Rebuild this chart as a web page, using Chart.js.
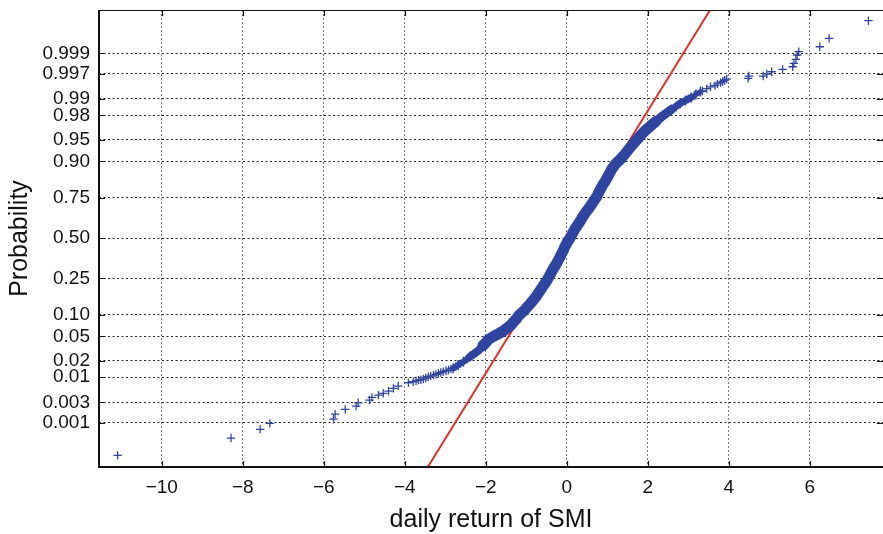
<!DOCTYPE html>
<html>
<head>
<meta charset="utf-8">
<script src="https://cdn.jsdelivr.net/npm/chart.js@4/dist/chart.umd.min.js"></script>
<style>
  html, body { margin: 0; padding: 0; background: #fff; }
  #wrap { width: 883px; height: 534px; }
</style>
</head>
<body>
<div id="wrap"><canvas id="chart" width="883" height="534"></canvas></div>
<script>
// sorted daily returns (x) and their normal quantile positions (z)
const lowerX = [-11.09, -8.29, -7.57, -7.33, -5.76, -5.72, -5.47, -5.20, -5.15, -4.87, -4.81, -4.65, -4.53, -4.40,
  -4.28, -4.16, -3.91, -3.79, -3.72, -3.66, -3.60, -3.54, -3.48, -3.42, -3.36, -3.29, -3.23, -3.17, -3.11, -3.05,
  -2.98, -2.92, -2.86, -2.80, -2.74, -2.68, -2.62, -2.55, -2.47, -2.39, -2.30, -2.22];
const lowerZ = [-3.636, -3.346, -3.20, -3.10, -3.03, -2.945, -2.866, -2.81, -2.756, -2.71, -2.665, -2.627, -2.598, -2.56,
  -2.515, -2.476, -2.421, -2.404, -2.39, -2.376, -2.37, -2.359, -2.34, -2.32, -2.31, -2.292, -2.28, -2.264, -2.25, -2.237,
  -2.22, -2.208, -2.19, -2.18, -2.15, -2.125, -2.10, -2.07, -2.03, -1.986, -1.94, -1.902];

const bodyX = [-2.80, -2.68, -2.55, -2.39, -2.22, -2.13, -2.07, -2.00, -1.94, -1.82, -1.68, -1.56, -1.46, -1.37, -1.31, -1.24, -1.19, -1.11, -1.03,
  -0.97, -0.90, -0.84, -0.78, -0.73, -0.68, -0.63, -0.58, -0.53, -0.48, -0.44, -0.40, -0.36, -0.32, -0.27, -0.23,
  -0.19, -0.155, -0.12, -0.08, -0.05, -0.01, 0.03, 0.08, 0.12, 0.16, 0.20, 0.25, 0.30, 0.35, 0.39, 0.44, 0.49,
  0.55, 0.60, 0.65, 0.70, 0.75, 0.78, 0.82, 0.86, 0.90, 0.95, 0.99, 1.03, 1.07, 1.11, 1.16, 1.22, 1.30, 1.37,
  1.43, 1.49, 1.55, 1.61, 1.67, 1.74, 1.80, 1.87, 1.94, 2.03, 2.11, 2.20, 2.29, 2.38, 2.48, 2.58, 2.70, 2.80, 2.93,
  3.07, 3.19, 3.30];
const bodyZ = [-2.18, -2.125, -2.07, -1.986, -1.902, -1.85, -1.80, -1.75, -1.70, -1.65, -1.60, -1.55, -1.50, -1.45, -1.40, -1.35, -1.30, -1.25, -1.20,
  -1.15, -1.10, -1.05, -1.00, -0.95, -0.90, -0.85, -0.80, -0.75, -0.70, -0.65, -0.60, -0.55, -0.50, -0.45, -0.40,
  -0.35, -0.30, -0.25, -0.20, -0.15, -0.10, -0.05, 0.00, 0.05, 0.10, 0.15, 0.20, 0.25, 0.30, 0.35, 0.40, 0.45,
  0.50, 0.55, 0.60, 0.65, 0.70, 0.75, 0.80, 0.85, 0.90, 0.95, 1.00, 1.05, 1.10, 1.15, 1.20, 1.25, 1.30, 1.35,
  1.40, 1.45, 1.50, 1.55, 1.60, 1.65, 1.70, 1.75, 1.80, 1.85, 1.90, 1.95, 2.00, 2.05, 2.10, 2.15, 2.20, 2.25, 2.30,
  2.35, 2.40, 2.45];

const upperX = [2.52, 2.75, 3.00, 3.15, 3.35, 3.46,
  3.55, 3.66, 3.72, 3.80, 3.85, 3.90, 3.95, 4.48, 4.50, 4.85, 4.94, 5.06, 5.33, 5.58, 5.61, 5.66, 5.69, 5.73,
  6.25, 6.48, 7.45];
const upperZ = [2.13, 2.24, 2.33, 2.39, 2.46, 2.50,
  2.53, 2.55, 2.58, 2.60, 2.62, 2.64, 2.66, 2.672, 2.71, 2.71, 2.744, 2.782, 2.822, 2.866, 2.923, 2.99, 3.062, 3.117,
  3.20, 3.341, 3.636];

// reference normal line
const fitX = [-3.43, 3.54];
const fitZ = [-3.83, 3.815];

const xTicks = [-10, -8, -6, -4, -2, 0, 2, 4, 6];
const yTickProbs = [0.001, 0.003, 0.01, 0.02, 0.05, 0.10, 0.25, 0.50, 0.75, 0.90, 0.95, 0.98, 0.99, 0.997, 0.999];
const yTickLabels = ['0.001', '0.003', '0.01', '0.02', '0.05', '0.10', '0.25', '0.50', '0.75', '0.90', '0.95',
  '0.98', '0.99', '0.997', '0.999'];

// inverse normal cdf (probability axis)
function probit(p) {
  const a = [-39.69683028665376, 220.9460984245205, -275.9285104469687, 138.3577518672690, -30.66479806614716, 2.506628277459239];
  const b = [-54.47609879822406, 161.5858368580409, -155.6989798598866, 66.80131188771972, -13.28068155288572];
  const c = [-0.007784894002430293, -0.3223964580411365, -2.400758277161838, -2.549732539343734, 4.374664141464968, 2.938163982698783];
  const d = [0.007784695709041462, 0.3224671290700398, 2.445134137142996, 3.754408661907416];
  const pl = 0.02425;
  let q, r;
  if (p < pl) {
    q = Math.sqrt(-2 * Math.log(p));
    return (((((c[0]*q+c[1])*q+c[2])*q+c[3])*q+c[4])*q+c[5]) / ((((d[0]*q+d[1])*q+d[2])*q+d[3])*q+1);
  } else if (p <= 1 - pl) {
    q = p - 0.5; r = q * q;
    return (((((a[0]*r+a[1])*r+a[2])*r+a[3])*r+a[4])*r+a[5])*q / (((((b[0]*r+b[1])*r+b[2])*r+b[3])*r+b[4])*r+1);
  }
  q = Math.sqrt(-2 * Math.log(1 - p));
  return -(((((c[0]*q+c[1])*q+c[2])*q+c[3])*q+c[4])*q+c[5]) / ((((d[0]*q+d[1])*q+d[2])*q+d[3])*q+1);
}

const toPts = (xs, zs) => xs.map((v, i) => ({ x: v, y: zs[i] }));
const blue = '#2f45a0';
const fontFamily = '"Liberation Sans", Arial, Helvetica, sans-serif';

// box + inward tick marks
const frame = {
  id: 'frame',
  afterDraw(chart) {
    const { ctx, chartArea: a, scales: { x, y } } = chart;
    ctx.save();
    ctx.strokeStyle = '#111';
    ctx.lineWidth = 1.2;
    ctx.beginPath();
    ctx.moveTo(a.left, a.top + 0.5); ctx.lineTo(a.right, a.top + 0.5);
    x.ticks.forEach(t => {
      const px = Math.round(x.getPixelForValue(t.value)) + 0.5;
      ctx.moveTo(px, a.bottom); ctx.lineTo(px, a.bottom - 6);
      ctx.moveTo(px, a.top); ctx.lineTo(px, a.top + 6);
    });
    y.ticks.forEach(t => {
      const py = Math.round(y.getPixelForValue(t.value)) + 0.5;
      ctx.moveTo(a.left, py); ctx.lineTo(a.left + 6, py);
      ctx.moveTo(a.right, py); ctx.lineTo(a.right - 6, py);
    });
    ctx.stroke();
    ctx.lineWidth = 2;
    ctx.beginPath();
    ctx.moveTo(a.left, a.top); ctx.lineTo(a.left, a.bottom); ctx.lineTo(a.right, a.bottom);
    ctx.stroke();
    ctx.restore();
  }
};

const crossOpts = {
  pointStyle: 'cross',
  borderColor: blue,
  backgroundColor: blue,
  pointRadius: 4.2,
  pointBorderWidth: 1.3,
  showLine: false,
  order: 0
};

new Chart(document.getElementById('chart'), {
  type: 'scatter',
  data: {
    datasets: [
      Object.assign({ data: toPts(lowerX, lowerZ) }, crossOpts),
      Object.assign({}, crossOpts, {
        type: 'line',
        data: toPts(bodyX, bodyZ),
        showLine: true,
        borderWidth: 11,
        borderJoinStyle: 'round',
        borderCapStyle: 'round',
        pointRadius: 5,
        pointBorderWidth: 1.5,
        segment: {
          borderWidth: c => {
            const z = c.p0.parsed.y;
            if (z < -2.0) return 6;
            if (z < -1.8) return 8;
            if (z > 2.3) return 5;
            if (z > 2.1) return 7;
            if (z > 1.9) return 9;
            return 11;
          }
        }
      }),
      Object.assign({ data: toPts(upperX, upperZ) }, crossOpts),
      {
        type: 'line',
        data: toPts(fitX, fitZ),
        borderColor: '#e0302a',
        borderWidth: 2,
        pointRadius: 0,
        showLine: true,
        order: 1
      }
    ]
  },
  options: {
    responsive: false,
    animation: false,
    devicePixelRatio: 1,
    layout: { autoPadding: false, padding: { top: 10, right: 0, left: 0, bottom: 0 } },
    plugins: { legend: { display: false }, tooltip: { enabled: false } },
    scales: {
      x: {
        type: 'linear',
        min: -11.55,
        max: 7.81,
        afterFit(scale) { scale.height = 67; scale.paddingLeft = scale.paddingRight = 0; },
        afterBuildTicks(scale) { scale.ticks = xTicks.map(v => ({ value: v })); },
        border: { display: false, dash: [2, 2] },
        grid: { color: '#777', drawTicks: false, lineWidth: 1 },
        ticks: {
          padding: 9,
          color: '#111',
          font: { family: fontFamily, size: 19 },
          callback: v => (v < 0 ? '\u2212' + Math.abs(v) : String(v))
        },
        title: {
          display: true,
          text: 'daily return of SMI',
          color: '#111',
          font: { family: fontFamily, size: 25, lineHeight: 1.1 },
          padding: { top: 0, bottom: 0 }
        }
      },
      y: {
        type: 'linear',
        min: -3.83,
        max: 3.815,
        afterFit(scale) { scale.width = 99; scale.paddingTop = scale.paddingBottom = 0; },
        afterBuildTicks(scale) { scale.ticks = yTickProbs.map(p => ({ value: probit(p) })); },
        border: { display: false, dash: [2, 2.5] },
        grid: { color: '#222', drawTicks: false, lineWidth: 1 },
        ticks: {
          padding: 9,
          color: '#111',
          font: { family: fontFamily, size: 19 },
          callback: (v, i) => yTickLabels[i]
        },
        title: {
          display: true,
          text: 'Probability',
          color: '#111',
          font: { family: fontFamily, size: 25, lineHeight: 1.1 },
          padding: { top: 6, bottom: 0 }
        }
      }
    }
  },
  plugins: [frame]
});
</script>
</body>
</html>
